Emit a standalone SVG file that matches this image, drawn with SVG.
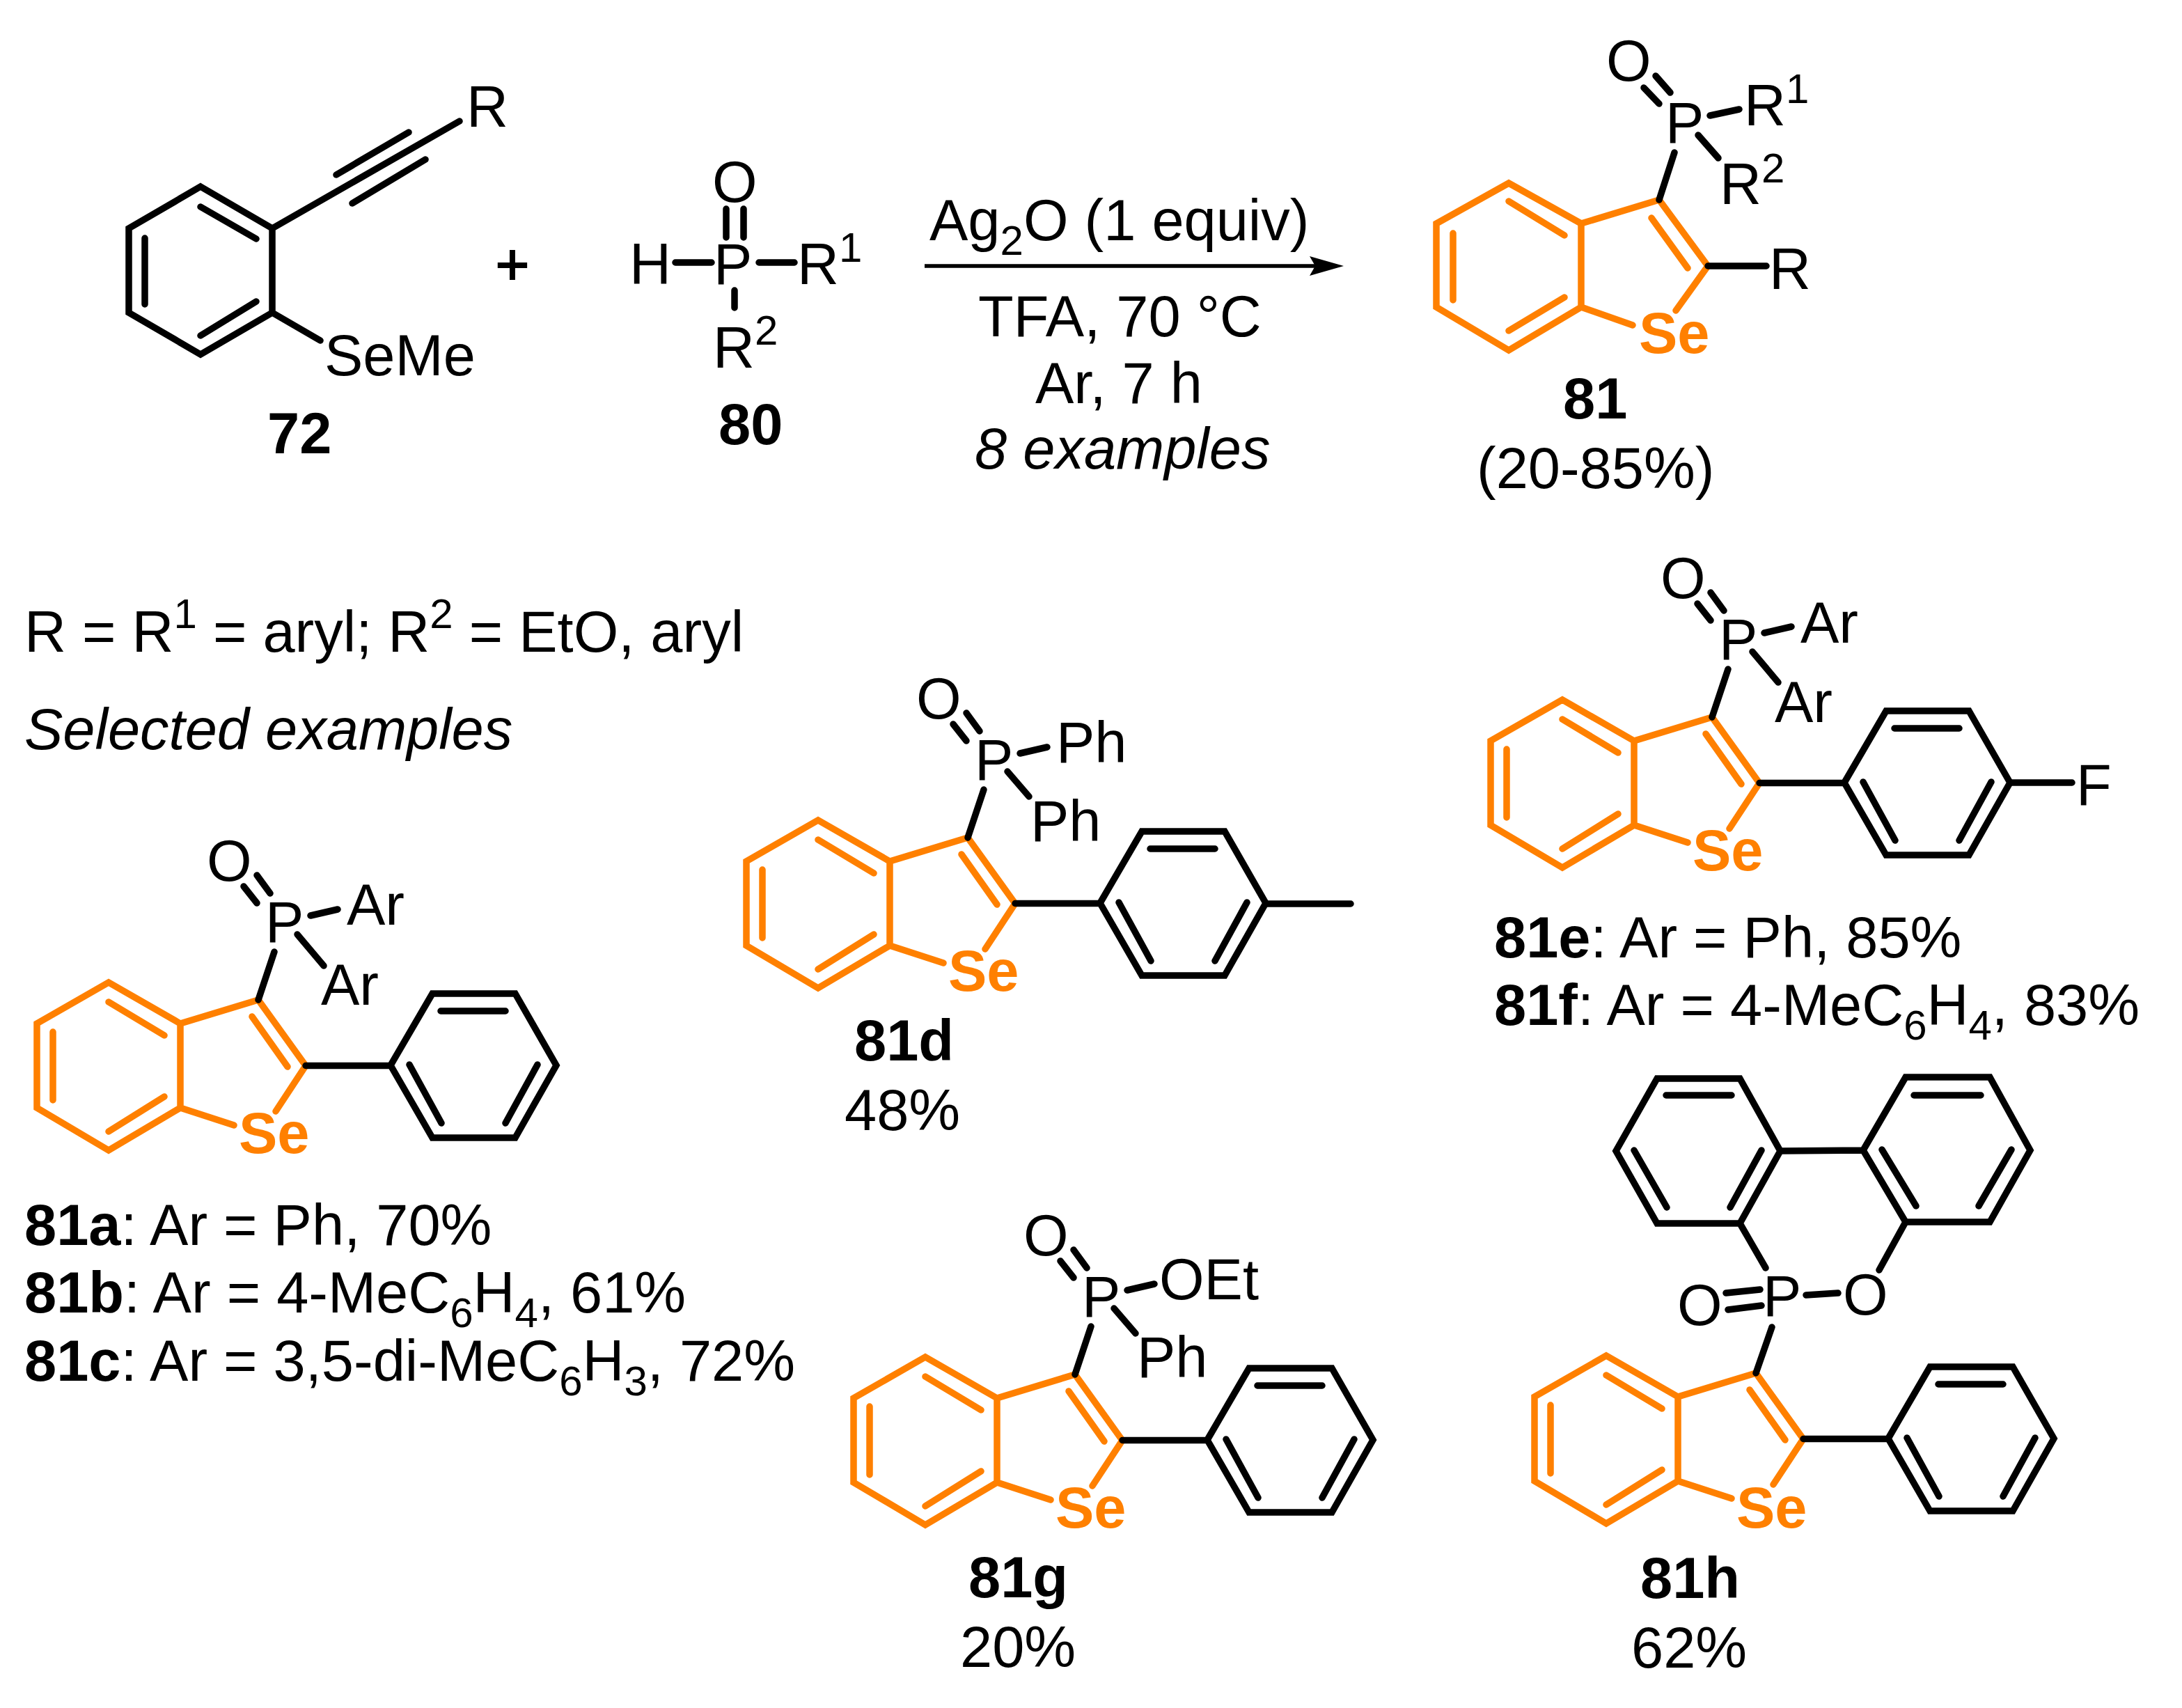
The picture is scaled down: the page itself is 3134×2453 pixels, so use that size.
<svg xmlns="http://www.w3.org/2000/svg" xmlns:xlink="http://www.w3.org/1999/xlink" width="3134" height="2453" viewBox="0 0 3134 2453">
<style>
text{font-family:"Liberation Sans",Arial,sans-serif;font-size:83px;fill:#000}
.b{font-weight:bold}
.i{font-style:italic}
.se{font-weight:bold;fill:#ff8000}
.s{font-size:60px}
.k{fill:none;stroke:#000;stroke-width:9.5;stroke-linecap:round;stroke-linejoin:miter}
.o{fill:none;stroke:#ff8000;stroke-width:9.5;stroke-linecap:round;stroke-linejoin:miter}
</style>
<defs>
<path id="core" class="o" d="M259 1470L156 1411L53 1470L53 1591L156 1652L259 1591ZM259 1470L371 1436L439 1530.5L396 1596M259 1591L336 1616M156 1439L236 1487M156 1625L236 1575M76 1482L76 1580M362 1460L413 1532"/>
<path id="ph" class="k" d="M439 1530.5L561 1530.5M561 1530L621 1427L740 1427L799 1530L740 1634L621 1634ZM633 1452L726 1452M588 1529L634 1613M772 1529L726 1613"/>
<path id="po" class="k" d="M371 1436L394 1367M350 1273L369 1297M369 1257L388 1283M446 1315L485 1306"/>
</defs>
<g id="compound-72">
<path class="k" d="M288 268L391 328L391 449L288 509L185 449L185 328ZM288 297L368 343M288 482L368 433M208 342L208 437M391 328L660 174M483 251L587 190M506 292L611 229M391 449L460 489"/>
<text x="670" y="182">R</text>
<text x="466" y="539">SeMe</text>
<text class="b" x="384" y="651">72</text>
</g>
<g id="plus"><text x="736" y="408" text-anchor="middle" stroke="#000" stroke-width="2">+</text></g>
<g id="compound-80">
<path class="k" d="M1043 300L1043 341M1068 300L1068 341M970 377L1022 377M1090 377L1141 377M1055 417L1055 442"/>
<text x="1023" y="290">O</text>
<text x="904" y="408">H</text>
<text x="1025" y="408">P</text>
<text x="1145" y="408">R<tspan class="s" dy="-32">1</tspan></text>
<text x="1024" y="528">R<tspan class="s" dy="-33">2</tspan></text>
<text class="b" x="1032" y="638">80</text>
</g>
<g id="reaction-arrow">
<path d="M1328 382L1890 382" stroke="#000" stroke-width="5.5" fill="none"/>
<polygon points="1881,368 1930,382 1881,396 1889,382" fill="#000"/>
<text x="1335" y="345">Ag<tspan class="s" dy="21">2</tspan><tspan dy="-21">O (1 equiv)</tspan></text>
<text x="1405" y="483">TFA, 70 °C</text>
<text x="1487" y="579">Ar, 7 h</text>
<text class="i" x="1400" y="673">8 examples</text>
</g>
<g id="compound-81">
<path class="o" d="M2271 321L2167 263L2063 321L2063 441L2167 503L2271 441ZM2271 321L2383 287L2453 382L2407 446M2271 441L2345 467M2167 289L2247 338M2167 475L2247 427M2087 335L2087 431M2372 313L2424 385"/>
<path class="k" d="M2383 287L2405 219M2361 126L2383 149M2378 109L2399 133M2456 166L2498 157M2439 194L2468 227M2453 382L2537 382"/>
<text x="2307" y="116">O</text>
<text x="2392" y="205">P</text>
<text x="2505" y="180">R<tspan class="s" dy="-32">1</tspan></text>
<text x="2470" y="293">R<tspan class="s" dy="-31">2</tspan></text>
<text x="2541" y="415">R</text>
<text class="se" x="2354" y="507">Se</text>
<text class="b" x="2245" y="601">81</text>
<text x="2121" y="701">(20-85%)</text>
</g>
<g id="notes">
<text x="35" y="936">R = R<tspan class="s" dy="-34">1</tspan><tspan dy="34"> = aryl; R</tspan><tspan class="s" dy="-34">2</tspan><tspan dy="34"> = EtO, aryl</tspan></text>
<text class="i" x="35" y="1076">Selected examples</text>
</g>
<g id="compound-81a">
<use xlink:href="#core" href="#core"/>
<use xlink:href="#ph" href="#ph"/>
<use xlink:href="#po" href="#po"/>
<path class="k" d="M427 1342L465 1387"/>
<text x="297" y="1265">O</text>
<text x="381" y="1353">P</text>
<text x="498" y="1328">Ar</text>
<text x="461" y="1443">Ar</text>
<text class="se" x="343" y="1656">Se</text>
<text x="35" y="1788"><tspan class="b">81a</tspan>: Ar = Ph, 70%</text>
<text x="35" y="1885"><tspan class="b">81b</tspan>: Ar = 4-MeC<tspan class="s" dy="21">6</tspan><tspan dy="-21">H</tspan><tspan class="s" dy="21">4</tspan><tspan dy="-21">, 61%</tspan></text>
<text x="35" y="1983"><tspan class="b">81c</tspan>: Ar = 3,5-di-MeC<tspan class="s" dy="21">6</tspan><tspan dy="-21">H</tspan><tspan class="s" dy="21">3</tspan><tspan dy="-21">, 72%</tspan></text>
</g>
<g id="compound-81d">
<g transform="translate(1019 -233)">
<use xlink:href="#core" href="#core"/>
<use xlink:href="#ph" href="#ph"/>
<use xlink:href="#po" href="#po"/>
</g>
<path class="k" d="M1447 1108L1478 1144M1819 1298L1940 1298"/>
<text x="1316" y="1032">O</text>
<text x="1400" y="1120">P</text>
<text x="1517" y="1095">Ph</text>
<text x="1480" y="1208">Ph</text>
<text class="se" x="1362" y="1423">Se</text>
<text class="b" x="1227" y="1523">81d</text>
<text x="1213" y="1623">48%</text>
</g>
<g id="compound-81e">
<g transform="translate(2088 -406)">
<use xlink:href="#core" href="#core"/>
<use xlink:href="#ph" href="#ph"/>
<use xlink:href="#po" href="#po"/>
</g>
<path class="k" d="M2517 936L2554 980M2888 1124L2976 1124"/>
<text x="2385" y="859">O</text>
<text x="2469" y="947">P</text>
<text x="2586" y="923">Ar</text>
<text x="2549" y="1037">Ar</text>
<text class="se" x="2431" y="1250">Se</text>
<text x="2982" y="1156">F</text>
<text x="2146" y="1375"><tspan class="b">81e</tspan>: Ar = Ph, 85%</text>
<text x="2146" y="1472"><tspan class="b">81f</tspan>: Ar = 4-MeC<tspan class="s" dy="21">6</tspan><tspan dy="-21">H</tspan><tspan class="s" dy="21">4</tspan><tspan dy="-21">, 83%</tspan></text>
</g>
<g id="compound-81g">
<g transform="translate(1173 538)">
<use xlink:href="#core" href="#core"/>
<use xlink:href="#ph" href="#ph"/>
<use xlink:href="#po" href="#po"/>
</g>
<path class="k" d="M1600 1879L1631 1915"/>
<text x="1470" y="1803">O</text>
<text x="1554" y="1891">P</text>
<text x="1665" y="1866">OEt</text>
<text x="1633" y="1978">Ph</text>
<text class="se" x="1516" y="2194">Se</text>
<text class="b" x="1391" y="2294">81g</text>
<text x="1379" y="2394">20%</text>
</g>
<g id="compound-81h">
<g transform="translate(2151 536)">
<use xlink:href="#core" href="#core"/>
<use xlink:href="#ph" href="#ph"/>
</g>
<path class="k" d="M2522 1972L2545 1906M2479 1857L2528 1852M2482 1881L2530 1875M2594 1860L2640 1857M2380 1549L2499 1549L2557 1653L2499 1757L2380 1757L2321 1653ZM2393 1573L2487 1573M2347 1652L2394 1734M2530 1652L2485 1734M2737 1547L2858 1547L2916 1652L2858 1755L2737 1755L2676 1652ZM2749 1573L2845 1573M2703 1651L2752 1732M2889 1651L2842 1732M2557 1653L2676 1652M2499 1757L2536 1821M2737 1755L2699 1824"/>
<text x="2532" y="1890">P</text>
<text x="2409" y="1903">O</text>
<text x="2647" y="1888">O</text>
<text class="se" x="2494" y="2194">Se</text>
<text class="b" x="2356" y="2295">81h</text>
<text x="2343" y="2395">62%</text>
</g>
</svg>
